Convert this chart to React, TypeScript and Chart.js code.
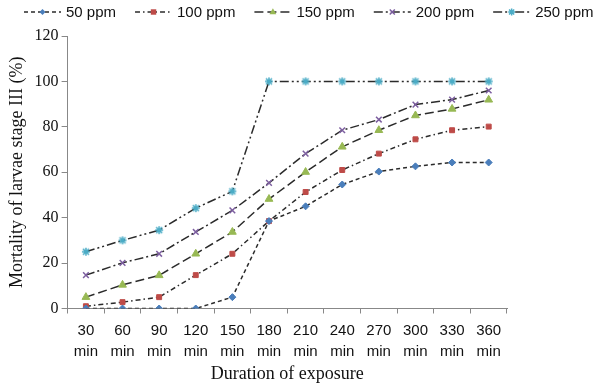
import React, { useEffect, useRef } from "react";
import { Chart, registerables } from "chart.js";

Chart.register(...registerables);

const categories: string[][] = [
  ["30", "min"], ["60", "min"], ["90", "min"], ["120", "min"], ["150", "min"], ["180", "min"],
  ["210", "min"], ["240", "min"], ["270", "min"], ["300", "min"], ["330", "min"], ["360", "min"],
];
const seriesLabels = ["50 ppm", "100 ppm", "150 ppm", "200 ppm", "250 ppm"];
const ppm50 = [0, 0, 0, 0, 5, 38.5, 45, 54.6, 60.3, 62.6, 64.3, 64.3];
const ppm100 = [1, 2.8, 5, 14.7, 24.1, 38.5, 51.3, 61, 68.2, 74.5, 78.5, 80.1];
const ppm150 = [5, 10.4, 14.6, 24.1, 33.7, 48.2, 60.1, 71.2, 78.5, 85, 87.9, 91.9];
const ppm200 = [14.7, 20.1, 24.1, 33.7, 43.2, 55.3, 68.2, 78.5, 83.2, 89.8, 92, 96];
const ppm250 = [25, 30, 34.5, 44.2, 51.6, 100, 100, 100, 100, 100, 100, 100];
const yTicksMax = 120;
const yTickStep = 20;

const LINE = "#2b2b2b";
const styles = [
  { color: "#4a7ebb", point: "rectRot", radius: 3.5, dash: [4, 3] },
  { color: "#be4b48", point: "rect", radius: 4, dash: [5, 3, 1.5, 3] },
  { color: "#98b954", point: "triangle", radius: 4.5, dash: [9, 4] },
  { color: "#7d5fa0", point: "crossRot", radius: 4, dash: [9, 3, 2, 3] },
  { color: "#4bacc6", point: "star", radius: 4, dash: [9, 3, 2, 3, 2, 3] },
];

function drawMarker(ctx: CanvasRenderingContext2D, style: string, color: string, r: number, x: number, y: number) {
  ctx.save();
  ctx.setLineDash([]);
  ctx.fillStyle = color;
  ctx.strokeStyle = color;
  ctx.lineWidth = 1.5;
  ctx.beginPath();
  if (style === "rectRot") {
    ctx.moveTo(x, y - r); ctx.lineTo(x + r, y); ctx.lineTo(x, y + r); ctx.lineTo(x - r, y); ctx.closePath(); ctx.fill();
  } else if (style === "rect") {
    const s = r * 0.8;
    ctx.rect(x - s, y - s, 2 * s, 2 * s); ctx.fill();
  } else if (style === "triangle") {
    ctx.moveTo(x, y - r); ctx.lineTo(x + r * 0.9, y + r * 0.6); ctx.lineTo(x - r * 0.9, y + r * 0.6); ctx.closePath(); ctx.fill();
  } else if (style === "crossRot") {
    const s = r * 0.75;
    ctx.moveTo(x - s, y - s); ctx.lineTo(x + s, y + s); ctx.moveTo(x + s, y - s); ctx.lineTo(x - s, y + s); ctx.stroke();
  } else {
    const s = r * 0.75;
    ctx.moveTo(x - s, y - s); ctx.lineTo(x + s, y + s); ctx.moveTo(x + s, y - s); ctx.lineTo(x - s, y + s);
    ctx.moveTo(x - r, y); ctx.lineTo(x + r, y); ctx.moveTo(x, y - r); ctx.lineTo(x, y + r); ctx.stroke();
  }
  ctx.restore();
}

const legendPlugin = {
  id: "lineLegend",
  afterDraw(chart: any) {
    const ctx: CanvasRenderingContext2D = chart.ctx;
    ctx.save();
    ctx.font = "15px 'Liberation Sans', Arial, sans-serif";
    ctx.textBaseline = "middle";
    let x = 24;
    const y = 12;
    const sampleW = 37;
    chart.data.datasets.forEach((ds: any, i: number) => {
      const st = styles[i];
      ctx.strokeStyle = LINE;
      ctx.lineWidth = 1.5;
      ctx.setLineDash(st.dash);
      ctx.beginPath();
      ctx.moveTo(x, y);
      ctx.lineTo(x + sampleW, y);
      ctx.stroke();
      drawMarker(ctx, st.point, st.color, st.radius * 0.85, x + sampleW / 2, y);
      ctx.fillStyle = "#111";
      ctx.fillText(ds.label, x + sampleW + 5, y + 1);
      const w = ctx.measureText(ds.label).width;
      x += sampleW + 5 + w + 19;
    });
    ctx.restore();
  },
};

const starCanvas = (() => {
  if (typeof document === "undefined") return "star";
  const c = document.createElement("canvas");
  c.width = 10; c.height = 10;
  const cx = c.getContext("2d")!;
  drawMarker(cx, "star", styles[4].color, 4, 5, 5);
  return c;
})();

export default function App() {
  const ref = useRef<HTMLCanvasElement>(null);
  useEffect(() => {
    document.body.style.margin = "0";
    const series = [ppm50, ppm100, ppm150, ppm200, ppm250];
    const chart = new Chart(ref.current!, {
      type: "line",
      data: {
        labels: categories,
        datasets: series.map((d, i) => ({
          label: seriesLabels[i],
          data: d,
          borderColor: LINE,
          borderWidth: 1.5,
          borderDash: styles[i].dash,
          pointStyle: i === 4 ? (starCanvas as any) : styles[i].point,
          pointRadius: i === 1 ? 3.5 : styles[i].radius,
          pointBackgroundColor: styles[i].color,
          pointBorderColor: styles[i].color,
          pointBorderWidth: i === 3 ? 1.5 : 1,
          tension: 0,
          fill: false,
        })),
      },
      options: {
        responsive: false,
        animation: false,
        layout: { padding: { top: 36, right: 93, left: 4, bottom: 0 } },
        plugins: { legend: { display: false }, tooltip: { enabled: false } },
        scales: {
          x: {
            offset: true,
            grid: { offset: true, drawOnChartArea: false, drawTicks: true, tickLength: 5, color: "#888" },
            border: { display: true, color: "#888", width: 1 },
            ticks: {
              color: "#111",
              maxRotation: 0,
              autoSkip: false,
              padding: 6,
              font: { family: "'Liberation Sans', Arial, sans-serif", size: 15, lineHeight: 1.45 },
            },
            title: {
              display: true,
              text: "Duration of exposure",
              color: "#111",
              padding: { top: -4, bottom: 0 },
              font: { family: "'Liberation Serif', 'Times New Roman', serif", size: 18, lineHeight: 1.0 },
            },
          },
          y: {
            min: 0,
            max: yTicksMax,
            grid: { drawOnChartArea: false, drawTicks: true, tickLength: 6, color: "#888" },
            border: { display: true, color: "#888", width: 1 },
            ticks: {
              stepSize: yTickStep,
              color: "#111",
              padding: 3,
              font: { family: "'Liberation Serif', 'Times New Roman', serif", size: 16 },
            },
            title: {
              display: true,
              text: "Mortality of larvae stage III (%)",
              color: "#111",
              padding: { top: 2, bottom: 4 },
              font: { family: "'Liberation Serif', 'Times New Roman', serif", size: 18 },
            },
          },
        },
      },
      plugins: [legendPlugin],
    });
    return () => chart.destroy();
  }, []);
  return (
    <div style={{ width: 600, height: 383 }}>
      <canvas ref={ref} width={600} height={383} />
    </div>
  );
}
